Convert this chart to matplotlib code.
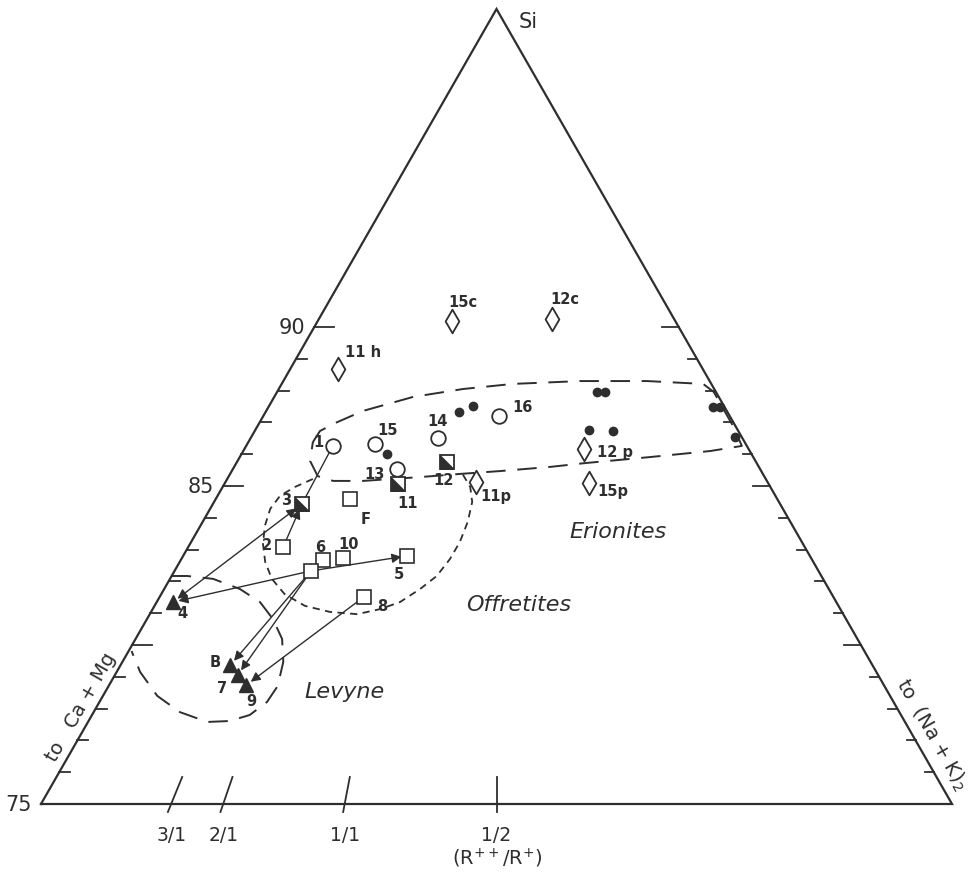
import numpy as np
import matplotlib.pyplot as plt
from matplotlib.path import Path

# ternary-like diagram: Si on top (75..100 %), base split by (Na+K)2 fraction f
# open circles
circ_lab = ['1', '15', '13', '14', '16']
circ_si = [86.26, 86.32, 85.53, 86.51, 87.20]
circ_f = [0.173, 0.256, 0.311, 0.381, 0.505]

# open diamonds
dia_lab = ['11 h', '15c', '12c', '12 p', '15p', '11p']
dia_si = [88.68, 90.19, 90.25, 86.16, 85.09, 85.13]
dia_f = [0.116, 0.376, 0.656, 0.673, 0.670, 0.462]

# small filled dots (no labels)
dot_si = [86.01, 87.33, 87.52, 87.96, 87.96, 86.76, 86.73, 87.48, 87.48, 86.54]
dot_f = [0.285, 0.419, 0.448, 0.729, 0.747, 0.692, 0.741, 0.975, 0.990, 0.986]

# half filled squares
half_lab = ['3', '11', '12']
half_si = [84.43, 85.06, 85.75]
half_f = [0.157, 0.319, 0.405]

# open squares ('' = unlabelled start point)
sq_lab = ['F', '2', '6', '10', '', '5', '8']
sq_si = [84.59, 83.08, 82.67, 82.74, 82.33, 82.80, 81.51]
sq_f = [0.239, 0.154, 0.225, 0.256, 0.212, 0.357, 0.303]

# filled triangles
tri_lab = ['4', 'B', '7', '9']
tri_si = [81.35, 79.37, 79.06, 78.74]
tri_f = [0.024, 0.146, 0.161, 0.177]

# field boundaries
eri_si = [86.38, 86.73, 86.98, 87.36, 87.80, 88.05, 88.21, 88.30, 88.30, 88.21,
          87.96, 86.86, 86.26, 86.10, 85.91, 85.72, 85.60, 85.47, 85.38, 85.28,
          85.16, 85.16, 85.31, 85.79, 86.38]
eri_f = [0.130, 0.135, 0.160, 0.210, 0.312, 0.423, 0.538, 0.696, 0.853, 0.981,
         0.995, 0.995, 0.990, 0.922, 0.799, 0.670, 0.602, 0.507, 0.432, 0.357,
         0.253, 0.198, 0.166, 0.140, 0.130]

off_si = [85.22, 84.97, 84.69, 84.28, 83.74, 83.18, 82.61, 82.08, 81.60, 81.23,
          81.04, 80.97, 81.13, 81.35, 81.76, 82.17, 82.70, 83.24, 83.87, 84.50,
          84.97, 85.41]
off_f = [0.159, 0.132, 0.112, 0.105, 0.109, 0.119, 0.135, 0.156, 0.184, 0.220,
         0.259, 0.299, 0.331, 0.358, 0.385, 0.408, 0.426, 0.440, 0.451, 0.457,
         0.452, 0.435]

lev_si = [82.17, 82.17, 82.08, 81.76, 81.35, 80.82, 80.19, 79.47, 78.71, 78.21,
          77.80, 77.61, 77.58, 77.89, 78.40, 79.15, 79.81]
lev_f = [0.000, 0.024, 0.066, 0.114, 0.152, 0.180, 0.203, 0.215, 0.218, 0.211,
         0.195, 0.173, 0.146, 0.107, 0.069, 0.031, 0.004]

# R++/R+ ratios on the base
ratio_val = [3, 2, 1, 0.5]
ratio_lab = ['3/1', '2/1', '1/1', '1/2']

INK = '#2e2e2e'
H = 795 / 911


def tern(si, f):
    si = np.asarray(si, float)
    f = np.asarray(f, float)
    t = (si - 75) / 25
    return f * (1 - t) + 0.5 * t, t * H


fig = plt.figure(figsize=(9.73, 8.87), dpi=100)
ax = fig.add_axes([0, 0, 1, 1])
ax.set_xlim(-41 / 911, 932 / 911)
ax.set_ylim(-82 / 911, 805 / 911)
ax.axis('off')

# triangle
tx, ty = tern([75, 75, 100, 75], [0, 1, 0.5, 0])
ax.plot(tx, ty, color=INK, lw=1.6, solid_joinstyle='miter')

# Si ticks on both sides
for s in range(76, 91):
    lx, ly = tern(s, 0)
    rx, ry = tern(s, 1)
    ll = 20 if s % 5 == 0 else 11
    rl = 17 if s % 5 == 0 else 9
    ax.plot([lx, lx + ll / 911], [ly, ly], color=INK, lw=1.3)
    ax.plot([rx, rx - rl / 911], [ry, ry], color=INK, lw=1.3)

for s in [90, 85, 75]:
    ax.annotate(str(s), tern(s, 0), xytext=(-9, 0), textcoords='offset pixels',
                ha='right', va='center', fontsize=15, color=INK)

ax.annotate('Si', tern(100, 0.5), xytext=(22, -12), textcoords='offset pixels',
            ha='left', va='center', fontsize=15, color=INK)

# ratio ticks on the base, along rays to Si
for r, lab in zip(ratio_val, ratio_lab):
    f = 1 / (2 * r + 1)
    xs, ys = tern([74.75, 75.85], [f, f])
    ax.plot(xs, ys, color=INK, lw=1.3)
    bx, by = tern(75, f)
    ax.annotate(lab, (bx, by), xytext=(0, -31), textcoords='offset pixels',
                ha='center', va='center', fontsize=13.5, color=INK)

ax.text(0.5, -53 / 911, r'(R$^{++}$/R$^{+}$)', ha='center', va='center',
        fontsize=14, color=INK)

ax.annotate('to   Ca + Mg', tern(77.9, 0), xytext=(-13, 5), textcoords='offset pixels',
            rotation=60.3, ha='center', va='center', fontsize=14, color=INK,
            rotation_mode='anchor')
ax.annotate(r'to  (Na + K)$_2$', tern(76.95, 1), xytext=(15, 8), textcoords='offset pixels',
            rotation=-60.3, ha='center', va='center', fontsize=14, color=INK,
            rotation_mode='anchor')

# field boundaries
ex, ey = tern(eri_si, eri_f)
ax.plot(ex, ey, color=INK, lw=1.4, ls=(0, (10, 6)))
ox, oy = tern(off_si, off_f)
ax.plot(ox, oy, color=INK, lw=1.3, ls=(0, (4, 3)))
vx, vy = tern(lev_si, lev_f)
ax.plot(vx, vy, color=INK, lw=1.4, ls=(0, (10, 6)))

ax.text(*tern(83.58, 0.703), 'Erionites', style='italic', fontsize=16,
        ha='center', va='center', color=INK)
ax.text(*tern(81.29, 0.532), 'Offretites', style='italic', fontsize=16,
        ha='center', va='center', color=INK)
ax.text(*tern(78.55, 0.306), 'Levyne', style='italic', fontsize=16,
        ha='center', va='center', color=INK)

# points by name for arrows
pts = {}
for lab, s, f in zip(circ_lab, circ_si, circ_f):
    pts['c' + lab] = tern(s, f)
for lab, s, f in zip(half_lab, half_si, half_f):
    pts['h' + lab] = tern(s, f)
for lab, s, f in zip(sq_lab, sq_si, sq_f):
    pts['s' + (lab or '0')] = tern(s, f)
for lab, s, f in zip(tri_lab, tri_si, tri_f):
    pts['t' + lab] = tern(s, f)

arrows = [('c1', 'h3', '-'), ('s2', 'h3', '-|>'), ('h3', 't4', '<|-|>'),
          ('s0', 't4', '-|>'), ('s0', 's5', '-|>'), ('s0', 'tB', '-|>'),
          ('s0', 't7', '-|>'), ('s8', 't9', '-|>')]
for a, b, st in arrows:
    ax.annotate('', xy=pts[b], xytext=pts[a],
                arrowprops=dict(arrowstyle=st, color=INK, lw=1.0,
                                shrinkA=5, shrinkB=4, mutation_scale=14))

diamond = Path([(0, 1), (0.58, 0), (0, -1), (-0.58, 0), (0, 1)],
               [Path.MOVETO, Path.LINETO, Path.LINETO, Path.LINETO, Path.CLOSEPOLY])
lower_half = Path([(-0.5, 0.5), (-0.5, -0.5), (0.5, -0.5), (-0.5, 0.5)],
                  [Path.MOVETO, Path.LINETO, Path.LINETO, Path.CLOSEPOLY])

x, y = tern(circ_si, circ_f)
ax.plot(x, y, 'o', ms=10.5, mfc='white', mec=INK, mew=1.3, ls='none', zorder=5)
x, y = tern(dia_si, dia_f)
ax.plot(x, y, marker=diamond, ms=17, mfc='white', mec=INK, mew=1.3, ls='none', zorder=5)
x, y = tern(dot_si, dot_f)
ax.plot(x, y, 'o', ms=6, color=INK, ls='none', zorder=5)
x, y = tern(half_si, half_f)
ax.plot(x, y, 's', ms=10, mfc='white', mec=INK, mew=1.3, ls='none', zorder=5)
ax.plot(x, y, marker=lower_half, ms=10, color=INK, mew=0.5, ls='none', zorder=6)
x, y = tern(sq_si, sq_f)
ax.plot(x, y, 's', ms=10, mfc='white', mec=INK, mew=1.2, ls='none', zorder=5)
x, y = tern(tri_si, tri_f)
ax.plot(x, y, '^', ms=9.5, color=INK, ls='none', zorder=5)

# point labels, offsets in pixels
offs = {
    'c1': (-14, 4), 'c15': (13, 15), 'c13': (-22, -4), 'c14': (-1, 17), 'c16': (24, 10),
    'd11 h': (25, 17), 'd15c': (11, 19), 'd12c': (13, 21), 'd12 p': (31, -2),
    'd15p': (24, -7), 'd11p': (20, -14),
    'h3': (-16, 5), 'h11': (10, -18), 'h12': (-4, -17),
    'sF': (16, -19), 's2': (-16, 3), 's6': (-3, 14), 's10': (6, 14),
    's5': (-8, -18), 's8': (18, -9),
    't4': (9, -10), 'tB': (-15, 4), 't7': (-16, -13), 't9': (5, -15),
}
groups = [('c', circ_lab, circ_si, circ_f), ('d', dia_lab, dia_si, dia_f),
          ('h', half_lab, half_si, half_f), ('s', sq_lab, sq_si, sq_f),
          ('t', tri_lab, tri_si, tri_f)]
for g, labs, sis, fs in groups:
    for lab, s, f in zip(labs, sis, fs):
        if not lab:
            continue
        ax.annotate(lab, tern(s, f), xytext=offs[g + lab], textcoords='offset pixels',
                    ha='center', va='center', fontsize=10.5, fontweight='bold',
                    color=INK)

fig.savefig('out.png', dpi=100, facecolor='white')
